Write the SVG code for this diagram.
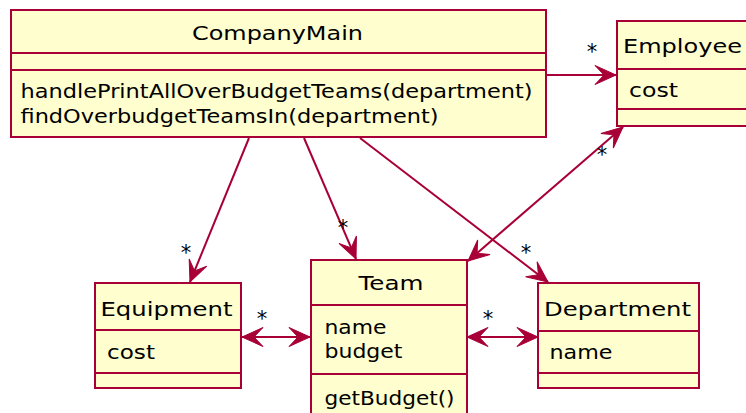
<svg xmlns="http://www.w3.org/2000/svg" width="746" height="413" viewBox="0 0 746 413">
<style>
.box{fill:#FEFECE;stroke:#A80036;stroke-width:2}
.sep{stroke:#A80036;stroke-width:2}
.t{font-family:"DejaVu Sans","Liberation Sans",sans-serif;font-size:20px;fill:#000}
.m{font-family:"DejaVu Sans","Liberation Sans",sans-serif;font-size:21px;fill:#000;text-anchor:middle}
.c{fill:none;stroke:#A80036;stroke-width:2}
</style>
<defs>
<marker id="ah" viewBox="-22 -11 23 22" refX="0" refY="0" markerWidth="23" markerHeight="22" markerUnits="userSpaceOnUse" orient="auto-start-reverse">
<path d="M0,0 L-21,-9.5 L-12,0 L-21,9.5 Z" fill="#A80036" stroke="#A80036" stroke-width="1"/>
</marker>
</defs>
<rect width="746" height="413" fill="#FFFFFF"/>
<g id="connectors">
<line class="c" x1="546" y1="75" x2="616" y2="75" marker-end="url(#ah)"/>
<line class="c" x1="249" y1="138" x2="190" y2="282" marker-end="url(#ah)"/>
<line class="c" x1="304" y1="138" x2="356" y2="259" marker-end="url(#ah)"/>
<line class="c" x1="360" y1="138" x2="548" y2="282" marker-end="url(#ah)"/>
<line class="c" x1="468" y1="261" x2="623" y2="127" marker-start="url(#ah)" marker-end="url(#ah)"/>
<line class="c" x1="242" y1="337" x2="310" y2="337" marker-start="url(#ah)" marker-end="url(#ah)"/>
<line class="c" x1="467" y1="337" x2="538" y2="337" marker-start="url(#ah)" marker-end="url(#ah)"/>
<text class="m" x="592" y="59">*</text>
<text class="m" x="186" y="260">*</text>
<text class="m" x="343" y="235">*</text>
<text class="m" x="526" y="260">*</text>
<text class="m" x="602" y="162">*</text>
<text class="m" x="262" y="326">*</text>
<text class="m" x="488" y="326">*</text>
</g>
<g id="CompanyMain">
<rect class="box" x="11" y="10" width="535" height="127"/>
<line class="sep" x1="11" y1="53" x2="546" y2="53"/>
<line class="sep" x1="11" y1="70" x2="546" y2="70"/>
<text class="t" x="192" y="40" textLength="171" lengthAdjust="spacingAndGlyphs">CompanyMain</text>
<text class="t" x="20.5" y="98.3" textLength="512" lengthAdjust="spacingAndGlyphs">handlePrintAllOverBudgetTeams(department)</text>
<text class="t" x="20.5" y="122.7" textLength="418" lengthAdjust="spacingAndGlyphs">findOverbudgetTeamsIn(department)</text>
</g>
<g id="Employee">
<rect class="box" x="617" y="21" width="140" height="105"/>
<line class="sep" x1="617" y1="69" x2="757" y2="69"/>
<line class="sep" x1="617" y1="109" x2="757" y2="109"/>
<text class="t" x="623" y="53.3" textLength="119" lengthAdjust="spacingAndGlyphs">Employee</text>
<text class="t" x="629" y="97.3" textLength="49" lengthAdjust="spacingAndGlyphs">cost</text>
</g>
<g id="Equipment">
<rect class="box" x="95" y="283" width="146" height="105"/>
<line class="sep" x1="95" y1="330" x2="241" y2="330"/>
<line class="sep" x1="95" y1="373" x2="241" y2="373"/>
<text class="t" x="100.5" y="316" textLength="132" lengthAdjust="spacingAndGlyphs">Equipment</text>
<text class="t" x="107" y="359" textLength="48" lengthAdjust="spacingAndGlyphs">cost</text>
</g>
<g id="Team">
<rect class="box" x="311" y="260" width="156" height="165"/>
<line class="sep" x1="311" y1="305" x2="467" y2="305"/>
<line class="sep" x1="311" y1="374" x2="467" y2="374"/>
<text class="t" x="358.5" y="290" textLength="65" lengthAdjust="spacingAndGlyphs">Team</text>
<text class="t" x="324.5" y="334" textLength="62" lengthAdjust="spacingAndGlyphs">name</text>
<text class="t" x="324.5" y="358" textLength="78" lengthAdjust="spacingAndGlyphs">budget</text>
<text class="t" x="324.5" y="405" textLength="130" lengthAdjust="spacingAndGlyphs">getBudget()</text>
</g>
<g id="Department">
<rect class="box" x="538" y="283" width="161" height="105"/>
<line class="sep" x1="538" y1="331" x2="699" y2="331"/>
<line class="sep" x1="538" y1="373" x2="699" y2="373"/>
<text class="t" x="544" y="316" textLength="147" lengthAdjust="spacingAndGlyphs">Department</text>
<text class="t" x="549.5" y="359" textLength="63" lengthAdjust="spacingAndGlyphs">name</text>
</g>
</svg>
